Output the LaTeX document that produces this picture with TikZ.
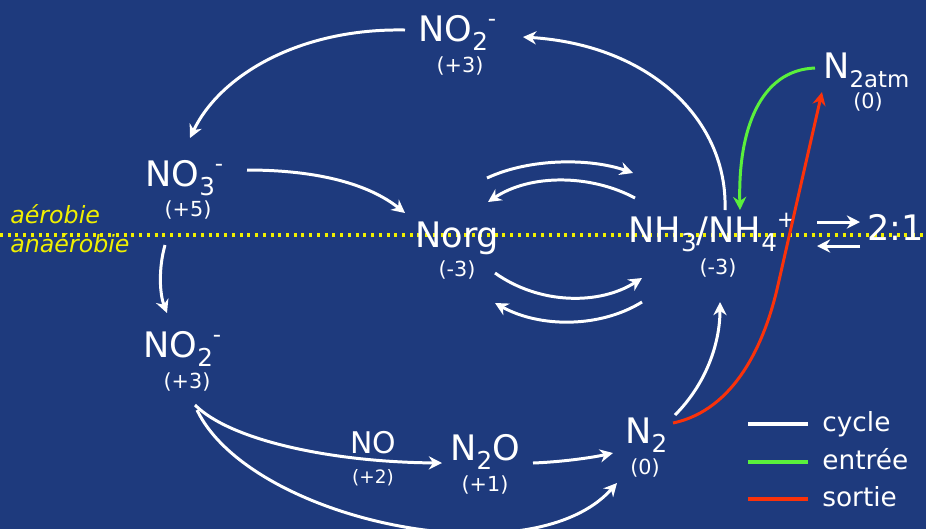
\documentclass[tikz,border=0pt]{standalone}
\usepackage{fontspec}
\setmainfont{DejaVu Sans}
\usetikzlibrary{arrows.meta}
\definecolor{bgblue}{RGB}{30,58,125}
\definecolor{dotyellow}{RGB}{240,240,0}
\definecolor{ingreen}{RGB}{90,240,60}
\definecolor{outred}{RGB}{250,50,10}
\newcommand{\subx}[1]{\raisebox{-0.28em}{\fontsize{14}{14}\selectfont #1}}
\newcommand{\supx}[1]{\raisebox{0.42em}{\fontsize{13}{13}\selectfont #1}}
\tikzset{
  chem/.style={anchor=base west, text=white, inner sep=0pt, font=\fontsize{20}{20}\selectfont},
  ox/.style={anchor=center, text=white, inner sep=0pt, font=\fontsize{11.8}{11.8}\selectfont},
  zone/.style={anchor=base west, text=dotyellow, inner sep=0pt, font=\fontsize{13.5}{13.5}\selectfont\itshape},
  legtext/.style={anchor=base west, text=white, inner sep=0pt, font=\fontsize{15}{15}\selectfont},
  cyc/.style={draw=white, line width=1.7pt, -{Stealth[length=7.5pt,width=7.5pt]}},
  inflow/.style={draw=ingreen, line width=1.7pt, -{Stealth[length=7.5pt,width=7.5pt]}},
  outflow/.style={draw=outred, line width=1.7pt, -{Stealth[length=7.5pt,width=7.5pt]}},
  legline/.style={line width=2.2pt}
}
\begin{document}
\begin{tikzpicture}[x=0.02cm,y=-0.02cm]
\fill[bgblue] (0,0) rectangle (926,529);
\useasboundingbox (0,0) rectangle (926,529);
% aerobic / anaerobic boundary
\coordinate (dl) at (0,235);
\coordinate (dr) at (926,235);
\draw[dotyellow, line width=1.8pt, dash pattern=on 1.7pt off 2.7pt] (dl) -- (dr);
\node[zone] (aer) at (10,223) {aérobie};
\node[zone] (anaer) at (10,252) {anaérobie};
% species
\node[chem] (no2top) at (418,41) {NO\subx{2}\supx{-}};
\node[ox] (no2topox) at (460,66) {(+3)};
\node[chem] (no3) at (145,186) {NO\subx{3}\supx{-}};
\node[ox] (no3ox) at (188,210) {(+5)};
\node[chem] (norg) at (415,247) {Norg};
\node[ox] (norgox) at (457,270) {(-3)};
\node[chem] (nh3) at (628,242) {NH\subx{3}/NH\subx{4}\supx{+}};
\node[ox] (nh3ox) at (718,268) {(-3)};
\node[chem, anchor=base east] (clay) at (924,240) {2:1};
\node[chem] (n2atm) at (823,78) {N\raisebox{-0.28em}{\fontsize{13}{13}\selectfont 2atm}};
\node[ox] (n2atmox) at (868,102) {(0)};
\node[chem] (no2bot) at (143,357) {NO\subx{2}\supx{-}};
\node[ox] (no2botox) at (187,382) {(+3)};
\node[anchor=base west, text=white, inner sep=0pt, font=\fontsize{17}{17}\selectfont] (no) at (350,453) {NO};
\node[ox, font=\fontsize{10.5}{10.5}\selectfont] (noox) at (373,478) {(+2)};
\node[chem] (n2o) at (450,460) {N\subx{2}O};
\node[ox] (n2oox) at (485,485) {(+1)};
\node[chem] (n2) at (625,443) {N\subx{2}};
\node[ox] (n2ox) at (645,468) {(0)};
% connector end points
\coordinate (nh3top) at (725,210);
\coordinate (no2topR) at (523,37);
\coordinate (no2topL) at (405,30);
\coordinate (no3top) at (190,138);
\coordinate (no3R) at (247,170);
\coordinate (norgL) at (405,213);
\coordinate (no3bot) at (165,245);
\coordinate (no2botT) at (167,313);
\coordinate (no2botA) at (195,405);
\coordinate (no2botB) at (197,410);
\coordinate (n2oL) at (442,463);
\coordinate (n2oR) at (533,463);
\coordinate (n2L) at (613,453);
\coordinate (n2B) at (617,483);
\coordinate (n2T) at (675,415);
\coordinate (nh3bot) at (720,302);
\coordinate (norgTa) at (487,178);
\coordinate (nh3Ta) at (633,173);
\coordinate (nh3Tb) at (635,198);
\coordinate (norgTb) at (488,202);
\coordinate (norgBa) at (495,273);
\coordinate (nh3Ba) at (642,278);
\coordinate (nh3Bb) at (642,302);
\coordinate (norgBb) at (495,303);
\coordinate (clayLa) at (817,222);
\coordinate (clayRa) at (860,222);
\coordinate (clayRb) at (860,246);
\coordinate (clayLb) at (817,246);
\coordinate (atmL) at (815,68);
\coordinate (nh3green) at (740,210);
\coordinate (n2red) at (673,423);
\coordinate (redbend) at (778,285);
\coordinate (atmB) at (822,92);
% cycle arrows
\draw[cyc] (nh3top) .. controls (728,120) and (650,45) .. (no2topR);
\draw[cyc] (no2topL) .. controls (300,28) and (220,75) .. (no3top);
\draw[cyc] (no3R) .. controls (320,170) and (370,185) .. (norgL);
\draw[cyc] (no3bot) .. controls (158,270) and (160,295) .. (no2botT);
\draw[cyc] (no2botA) .. controls (230,440) and (330,462) .. (n2oL);
\draw[cyc] (no2botB) .. controls (250,520) and (530,580) .. (n2B);
\draw[cyc] (n2oR) .. controls (560,462) and (590,458) .. (n2L);
\draw[cyc] (n2T) .. controls (705,385) and (720,345) .. (nh3bot);
\draw[cyc] (norgTa) .. controls (530,158) and (590,158) .. (nh3Ta);
\draw[cyc] (nh3Tb) .. controls (590,174) and (530,174) .. (norgTb);
\draw[cyc] (norgBa) .. controls (540,305) and (600,305) .. (nh3Ba);
\draw[cyc] (nh3Bb) .. controls (600,328) and (540,328) .. (norgBb);
\draw[cyc] (clayLa) -- (clayRa);
\draw[cyc] (clayRb) -- (clayLb);
% input / output
\draw[inflow] (atmL) .. controls (760,70) and (738,130) .. (nh3green);
\draw[outflow] (n2red) .. controls (735,410) and (765,343) .. (redbend) -- (atmB);
% legend
\coordinate (l1a) at (748,424); \coordinate (l1b) at (808,424);
\coordinate (l2a) at (748,462); \coordinate (l2b) at (808,462);
\coordinate (l3a) at (748,499); \coordinate (l3b) at (808,499);
\draw[legline, white] (l1a) -- (l1b);
\draw[legline, ingreen] (l2a) -- (l2b);
\draw[legline, outred] (l3a) -- (l3b);
\node[legtext] (lcyc) at (822,431) {cycle};
\node[legtext] (lent) at (822,469) {entrée};
\node[legtext] (lsor) at (822,506) {sortie};
\end{tikzpicture}
\end{document}
